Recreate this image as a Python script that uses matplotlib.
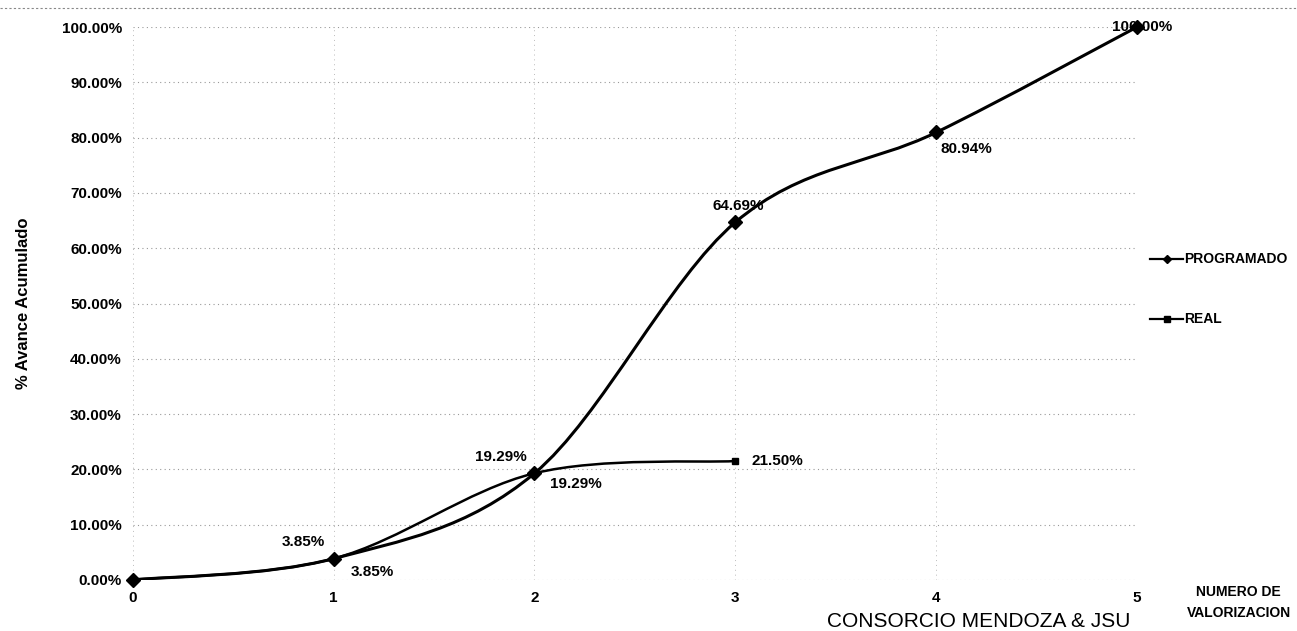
import matplotlib.pyplot as plt
from matplotlib.path import Path
from matplotlib.patches import PathPatch
from matplotlib.ticker import FuncFormatter

plt.rcParams['font.family'] = ['Liberation Sans Narrow', 'Liberation Sans', 'DejaVu Sans']

# data
valorizacion = [0, 1, 2, 3, 4, 5]
programado = [0.0, 3.85, 19.29, 64.69, 80.94, 100.0]
real_x = [0, 1, 2, 3]
real = [0.0, 3.85, 19.29, 21.50]
y_ticks = [0, 10, 20, 30, 40, 50, 60, 70, 80, 90, 100]

# label offsets (points) for data labels
prog_offsets = [None, (-22, 12), (-24, 12), (2, 12), (22, -12), (4, 0)]
real_offsets = [None, (28, -10), (30, -8), (30, 0)]


def smooth_path(xs, ys):
    # Excel-style smoothed line: cubic Bezier through the points
    verts = [(xs[0], ys[0])]
    codes = [Path.MOVETO]
    n = len(xs)
    for i in range(n - 1):
        p0 = (xs[max(i - 1, 0)], ys[max(i - 1, 0)])
        p1 = (xs[i], ys[i])
        p2 = (xs[i + 1], ys[i + 1])
        p3 = (xs[min(i + 2, n - 1)], ys[min(i + 2, n - 1)])
        c1 = (p1[0] + (p2[0] - p0[0]) / 6, p1[1] + (p2[1] - p0[1]) / 6)
        c2 = (p2[0] - (p3[0] - p1[0]) / 6, p2[1] - (p3[1] - p1[1]) / 6)
        verts += [c1, c2, p2]
        codes += [Path.CURVE4] * 3
    return Path(verts, codes)


fig = plt.figure(figsize=(12.97, 6.31), dpi=100)
ax = fig.add_axes([0.1025, 0.081, 0.774, 0.876])

ax.add_patch(PathPatch(smooth_path(valorizacion, programado), fill=False,
                       edgecolor='black', linewidth=2.2, zorder=3))
ax.add_patch(PathPatch(smooth_path(real_x, real), fill=False,
                       edgecolor='black', linewidth=1.8, zorder=3))
ax.plot(valorizacion, programado, linestyle='none', marker='D', markersize=7,
        color='black', zorder=4, clip_on=False)
ax.plot(real_x, real, linestyle='none', marker='s', markersize=5,
        color='black', zorder=4, clip_on=False)

for x, v, off in zip(valorizacion, programado, prog_offsets):
    if off is None:
        continue
    ax.annotate(f"{v:.2f}%", (x, v), xytext=off, textcoords='offset points',
                ha='center', va='center', fontsize=11, fontweight='bold')
for x, v, off in zip(real_x, real, real_offsets):
    if off is None:
        continue
    ax.annotate(f"{v:.2f}%", (x, v), xytext=off, textcoords='offset points',
                ha='center', va='center', fontsize=11, fontweight='bold')

ax.set_xlim(0, 5)
ax.set_ylim(0, 100)
ax.set_xticks(valorizacion)
ax.set_yticks(y_ticks)
ax.yaxis.set_major_formatter(FuncFormatter(lambda v, p: f"{v:.2f}%"))
ax.tick_params(length=0, labelsize=11, pad=8)
for lab in ax.get_xticklabels() + ax.get_yticklabels():
    lab.set_fontweight('bold')
for s in ax.spines.values():
    s.set_visible(False)
ax.grid(axis='y', color='#999999', linestyle=(0, (1, 3)), linewidth=0.8)
ax.grid(axis='x', color='#bbbbbb', linestyle=(0, (1, 4)), linewidth=0.7)
ax.set_axisbelow(True)

ax.set_ylabel("% Avance Acumulado", fontsize=12, fontweight='bold',
              family=['Liberation Sans', 'DejaVu Sans'], labelpad=22)

# legend at right
for yy, mk, name in [(0.59, 'D', "PROGRAMADO"), (0.495, 's', "REAL")]:
    fig.lines.append(plt.Line2D([0.887, 0.912], [yy, yy], color='black', lw=1.6,
                                transform=fig.transFigure))
    fig.lines.append(plt.Line2D([0.8995], [yy], color='black', marker=mk,
                                markersize=4.5, linestyle='none',
                                transform=fig.transFigure))
    fig.text(0.913, yy, name, fontsize=10, fontweight='bold', va='center')

fig.text(0.955, 0.045, "NUMERO DE\nVALORIZACION", fontsize=10, fontweight='bold',
         ha='center', va='center', linespacing=1.6)

# scanned watermark text
fig.text(0.638, 0.0, "CONSORCIO MENDOZA & JSU", fontsize=15,
         family=['Liberation Sans', 'DejaVu Sans'], ha='left', va='bottom')

# chart border remnants
fig.lines.append(plt.Line2D([0.0, 1.0], [0.987, 0.987], color='#888888', lw=0.8,
                            linestyle=(0, (2, 2)), transform=fig.transFigure))

fig.savefig("out.png", dpi=100)
